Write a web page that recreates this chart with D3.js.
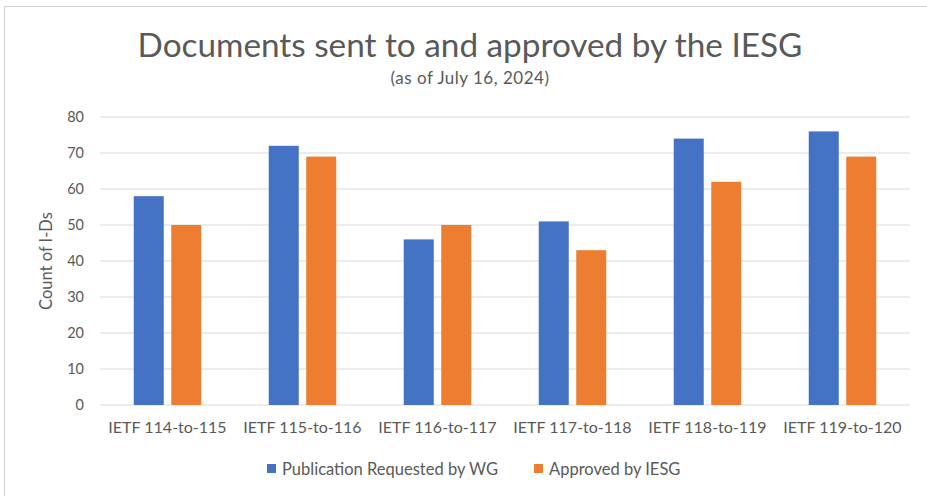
<!DOCTYPE html>
<html><head><meta charset="utf-8">
<script src="https://cdn.jsdelivr.net/npm/d3@7"></script>
<style>body{margin:0;background:#fff;}text{font-family:Lato,"Open Sans",sans-serif;}</style>
</head><body><svg id="c" width="927" height="496"></svg>
<script>
const categories = ["IETF 114-to-115","IETF 115-to-116","IETF 116-to-117","IETF 117-to-118","IETF 118-to-119","IETF 119-to-120"];
const seriesNames = ["Publication Requested by WG","Approved by IESG"];
const requested = [58,72,46,51,74,76];
const approved = [50,69,50,43,62,69];
const yTicks = [0,10,20,30,40,50,60,70,80];
const colors = ["#4472C4","#ED7D31"];

const svg = d3.select("#c");
svg.append("rect").attr("x",4.5).attr("y",6.5).attr("width",940).attr("height",500)
  .attr("fill","#fff").attr("stroke","#d0d0d0");

const x = d3.scaleBand().domain(categories).range([100,910]).paddingInner(0.5).paddingOuter(0.25);
const xs = d3.scaleBand().domain(seriesNames).range([0,x.bandwidth()]).paddingInner(0.2);
const y = d3.scaleLinear().domain([0,80]).range([405,117]);

// grid
svg.append("g").selectAll("line").data(yTicks).join("line")
  .attr("x1",100).attr("x2",910).attr("y1",d=>y(d)).attr("y2",d=>y(d))
  .attr("stroke","#d9d9d9").attr("stroke-width",1.2);

// y axis labels
const ya = svg.append("g").attr("transform","translate(84,0)")
  .call(d3.axisLeft(y).tickValues(yTicks).tickSize(0).tickPadding(0));
ya.select(".domain").remove();
ya.selectAll("text").attr("fill","#595959").style("font-size","14.5px").style("font-family","Lato,sans-serif");

// x axis labels
const xa = svg.append("g").attr("transform","translate(0,422)")
  .call(d3.axisBottom(x).tickSize(0).tickPadding(0));
xa.select(".domain").remove();
xa.selectAll("text").attr("fill","#595959").style("font-size","16px").style("font-family","Lato,sans-serif");

// bars
const data = categories.map((c,i)=>({c, vals:[requested[i],approved[i]]}));
const g = svg.append("g").selectAll("g").data(data).join("g")
  .attr("transform",d=>`translate(${x(d.c)},0)`);
g.selectAll("rect").data(d=>d.vals.map((v,j)=>({s:seriesNames[j],v,j}))).join("rect")
  .attr("x",d=>xs(d.s)).attr("width",xs.bandwidth())
  .attr("y",d=>y(d.v)).attr("height",d=>y(0)-y(d.v))
  .attr("fill",d=>colors[d.j]);

// titles
svg.append("text").attr("x",470).attr("y",57).attr("text-anchor","middle")
  .attr("fill","#595959").style("font-size","33.3px").text("Documents sent to and approved by the IESG");
svg.append("text").attr("x",470).attr("y",84).attr("text-anchor","middle")
  .attr("fill","#595959").style("font-size","17px").style("letter-spacing","0.5px").text("(as of July 16, 2024)");
svg.append("text").attr("transform","translate(52,261) rotate(-90)").attr("text-anchor","middle")
  .attr("fill","#595959").style("font-size","16.5px").text("Count of I-Ds");

// legend
const legX = [267,534];
const lg = svg.append("g").selectAll("g").data(seriesNames).join("g")
  .attr("transform",(d,i)=>`translate(${legX[i]},469)`);
lg.append("rect").attr("x",0).attr("y",-5).attr("width",9).attr("height",9).attr("fill",(d,i)=>colors[i]);
lg.append("text").attr("x",15).attr("y",6).attr("fill","#595959").style("font-size","16.5px").text(d=>d);
</script></body></html>
